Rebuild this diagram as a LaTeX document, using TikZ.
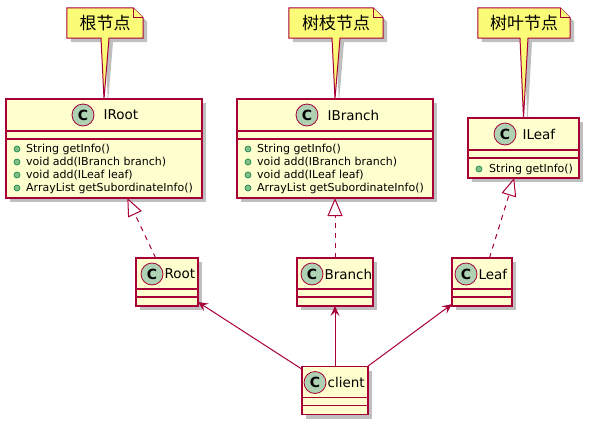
\documentclass[tikz,border=0pt]{standalone}
\usepackage{fontspec}
\setmainfont{DejaVu Sans}
\newfontfamily\cjk{Noto Sans CJK SC}
\usetikzlibrary{arrows.meta,positioning,shadows,backgrounds}
\definecolor{umlred}{HTML}{A80036}
\definecolor{umlfill}{HTML}{FEFECE}
\definecolor{notefill}{HTML}{FBFB77}
\definecolor{spotfill}{HTML}{ADD1B2}
\definecolor{bulletfill}{HTML}{84BE84}
\definecolor{bulletdraw}{HTML}{038048}
\begin{document}
\begin{tikzpicture}[x=1pt,y=-1pt,
  classbox/.style={draw=umlred, fill=umlfill, line width=1.1pt, inner sep=0pt, outer sep=0pt,
    drop shadow={shadow xshift=4pt, shadow yshift=-4pt, opacity=.25, fill=black}},
  spot/.style={circle, draw=umlred, fill=spotfill, line width=.8pt, minimum size=22pt, inner sep=0pt,
    font=\fontsize{14}{14}\selectfont\bfseries},
  classname/.style={inner sep=0pt, font=\fontsize{13.5}{16}\selectfont},
  member/.style={inner sep=0pt, anchor=west, font=\fontsize{11}{13}\selectfont},
  bullet/.style={fill=bulletfill, draw=bulletdraw, line width=.6pt},
  sepline/.style={draw=umlred, line width=1.1pt},
  notebox/.style={inner sep=0pt, minimum height=30pt, font=\cjk\fontsize{17}{19}\selectfont},
  notepath/.style={draw=umlred, fill=notefill, line width=1pt,
    drop shadow={shadow xshift=4pt, shadow yshift=-4pt, opacity=.25, fill=black}},
  notefold/.style={draw=umlred, fill=notefill, line width=1pt},
  realizeedge/.style={draw=umlred, line width=1pt, dash pattern=on 5pt off 5pt,
    -{Triangle[open, length=18pt, width=15pt, fill=white]}},
  usesedge/.style={draw=umlred, line width=1pt, -{Stealth[length=10pt, width=9pt, inset=4pt]}}]
\useasboundingbox (0,0) rectangle (589,424);

% classes
\node[classbox, minimum width=196pt, minimum height=99pt] (iroot) at (104,148.5) {};
\node[classbox, minimum width=196pt, minimum height=99pt] (ibranch) at (335,148.5) {};
\node[classbox, minimum width=111pt, minimum height=60pt] (ileaf) at (523.5,148) {};
\node[classbox, minimum width=62pt, minimum height=48pt] (root) at (167,282) {};
\node[classbox, minimum width=76pt, minimum height=48pt] (branch) at (335,282) {};
\node[classbox, minimum width=60pt, minimum height=48pt] (leaf) at (482,282) {};
\node[classbox, minimum width=66pt, minimum height=48pt] (client) at (335,390.5) {};

% headers
\foreach \cls/\dx/\gap/\txt in {iroot/77pt/9pt/IRoot, ibranch/70pt/9pt/IBranch, ileaf/37pt/6pt/ILeaf,
    root/16pt/1pt/Root, branch/15pt/1pt/Branch, leaf/14pt/1pt/Leaf, client/13pt/1pt/client} {
  \node[spot] (\cls-c) at ([xshift=\dx, yshift=-16pt]\cls.north west) {C};
  \node[classname, right=\gap of \cls-c] (\cls-n) {\txt};
}

% compartments
\foreach \cls/\off in {iroot/32, ibranch/32, ileaf/32, root/31, branch/31, leaf/31, client/31}
  \foreach \d in {0,8}
    \draw[sepline] ([yshift={-(\off+\d)*1pt}]\cls.north west) -- ([yshift={-(\off+\d)*1pt}]\cls.north east);

% members
\foreach \cls in {iroot, ibranch}
  \foreach \i/\m in {0/String getInfo(), 1/void add(IBranch branch), 2/void add(ILeaf leaf),
      3/ArrayList getSubordinateInfo()} {
    \path[bullet] ([xshift=11pt, yshift={-(50+13*\i)*1pt}]\cls.north west) circle (3pt);
    \node[member] (\cls-m\i) at ([xshift=20pt, yshift={-(50+13*\i)*1pt}]\cls.north west) {\m};
  }
\path[bullet] ([xshift=11pt, yshift=-51pt]ileaf.north west) circle (3pt);
\node[member] (ileaf-m0) at ([xshift=21pt, yshift=-51pt]ileaf.north west) {String getInfo()};

% notes
\node[notebox, minimum width=76pt] (rootnote) at (105,23) {根节点};
\node[notebox, minimum width=94pt] (branchnote) at (336,23) {树枝节点};
\node[notebox, minimum width=92pt] (leafnote) at (524,23) {树叶节点};
\begin{scope}[on background layer]
\foreach \nt/\cls in {rootnote/iroot, branchnote/ibranch, leafnote/ileaf} {
  \draw[notepath] (\nt.north west) -- ([xshift=-10pt]\nt.north east) -- ([yshift=-10pt]\nt.north east)
    -- (\nt.south east) -- ([xshift=4pt]\nt.south) -- (\cls.north) -- ([xshift=-4pt]\nt.south)
    -- (\nt.south west) -- cycle;
  \draw[notefold] ([xshift=-10pt]\nt.north east) |- ([yshift=-10pt]\nt.north east);
}
\end{scope}

% relations
\draw[realizeedge] (root) -- (iroot);
\draw[realizeedge] (branch) -- (ibranch);
\draw[realizeedge] (leaf) -- (ileaf);
\draw[usesedge] (client) -- (root);
\draw[usesedge] (client) -- (branch);
\draw[usesedge] (client) -- (leaf);
\end{tikzpicture}
\end{document}
